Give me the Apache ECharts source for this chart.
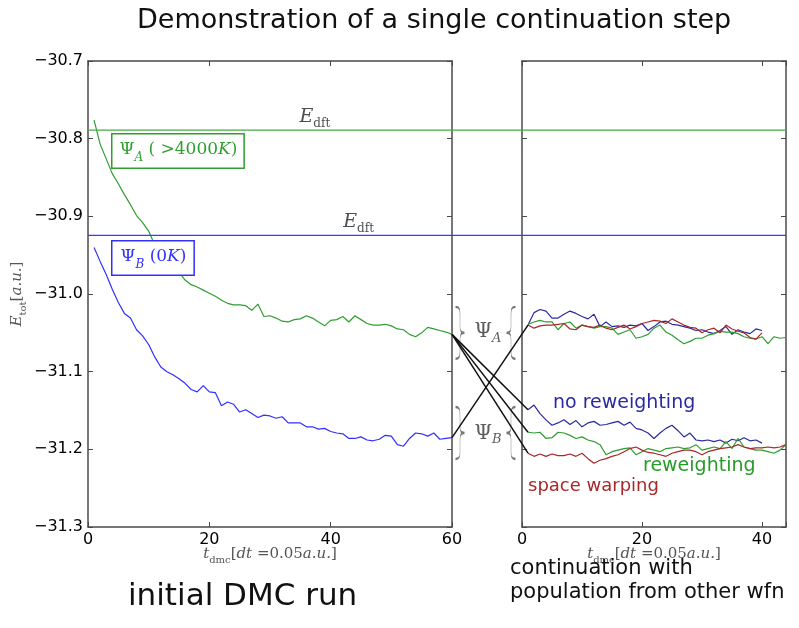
<!DOCTYPE html>
<html><head><meta charset="utf-8">
<script src="https://cdn.jsdelivr.net/npm/echarts@6/dist/echarts.min.js"></script>
<style>html,body{margin:0;padding:0;background:#fff}#c{width:799px;height:628px}</style>
</head><body><div id="c"></div><script>
// ---------------- data ----------------
const xTicksLeft = [0, 20, 40, 60];
const xTicksRight = [0, 20, 40];
const yTicks = [-31.3, -31.2, -31.1, -31.0, -30.9, -30.8, -30.7];

const E_DFT_A = -30.789;   // Edft of Psi_A
const E_DFT_B = -30.9245;  // Edft of Psi_B

// initial DMC run (t = 1..60)
const leftPsiA = [
 -30.776,-30.807,-30.826,-30.845,-30.858,-30.872,-30.885,-30.899,-30.908,-30.919,
 -30.937,-30.945,-30.955,-30.963,-30.972,-30.982,-30.988,-30.991,-30.995,-30.999,
 -31.003,-31.008,-31.012,-31.014,-31.014,-31.015,-31.021,-31.013,-31.029,-31.028,
 -31.031,-31.035,-31.036,-31.033,-31.032,-31.028,-31.031,-31.036,-31.041,-31.034,
 -31.033,-31.029,-31.036,-31.028,-31.033,-31.038,-31.040,-31.040,-31.039,-31.041,
 -31.045,-31.046,-31.052,-31.055,-31.050,-31.043,-31.045,-31.047,-31.049,-31.052];
const leftPsiB = [
 -30.940,-30.958,-30.975,-30.994,-31.011,-31.025,-31.031,-31.046,-31.054,-31.065,
 -31.081,-31.094,-31.100,-31.104,-31.109,-31.115,-31.123,-31.126,-31.118,-31.126,
 -31.127,-31.144,-31.139,-31.142,-31.152,-31.149,-31.154,-31.159,-31.156,-31.157,
 -31.160,-31.158,-31.166,-31.166,-31.166,-31.171,-31.171,-31.174,-31.173,-31.177,
 -31.179,-31.180,-31.186,-31.186,-31.184,-31.188,-31.189,-31.187,-31.182,-31.183,
 -31.194,-31.196,-31.186,-31.179,-31.180,-31.183,-31.179,-31.187,-31.186,-31.185];

// continuation, population moved into Psi_A (upper group)
const contA_noRew = [
 -31.040,-31.024,-31.020,-31.022,-31.031,-31.031,-31.026,-31.022,-31.025,-31.029,
 -31.032,-31.026,-31.042,-31.036,-31.042,-31.041,-31.043,-31.040,-31.041,-31.038,
 -31.047,-31.042,-31.036,-31.035,-31.039,-31.040,-31.042,-31.044,-31.047,-31.046,
 -31.049,-31.051,-31.047,-31.042,-31.052,-31.046,-31.049,-31.051,-31.045,-31.047];
const contA_rew = [
 -31.039,-31.036,-31.034,-31.036,-31.036,-31.046,-31.038,-31.036,-31.044,-31.040,
 -31.042,-31.044,-31.042,-31.042,-31.044,-31.052,-31.049,-31.046,-31.057,-31.055,
 -31.052,-31.044,-31.040,-31.049,-31.053,-31.059,-31.064,-31.061,-31.057,-31.057,
 -31.053,-31.051,-31.048,-31.049,-31.049,-31.051,-31.055,-31.057,-31.058,-31.055,
 -31.064,-31.055,-31.057,-31.056];
const contA_warp = [
 -31.040,-31.044,-31.041,-31.040,-31.040,-31.039,-31.038,-31.045,-31.046,-31.040,
 -31.042,-31.043,-31.040,-31.044,-31.046,-31.043,-31.040,-31.045,-31.042,-31.038,
 -31.036,-31.034,-31.035,-31.038,-31.032,-31.036,-31.040,-31.043,-31.044,-31.050,
 -31.046,-31.044,-31.050,-31.040,-31.045,-31.048,-31.050,-31.056,-31.058,-31.050];

// continuation, population moved into Psi_B (lower group)
const contB_noRew = [
 -31.149,-31.143,-31.154,-31.162,-31.169,-31.166,-31.162,-31.168,-31.163,-31.171,
 -31.166,-31.164,-31.169,-31.168,-31.166,-31.164,-31.169,-31.165,-31.173,-31.175,
 -31.179,-31.186,-31.179,-31.173,-31.169,-31.176,-31.184,-31.179,-31.188,-31.189,
 -31.188,-31.190,-31.188,-31.192,-31.187,-31.189,-31.185,-31.189,-31.188,-31.192];
const contB_rew = [
 -31.178,-31.179,-31.178,-31.186,-31.185,-31.178,-31.179,-31.182,-31.186,-31.184,
 -31.188,-31.190,-31.194,-31.207,-31.203,-31.201,-31.199,-31.198,-31.207,-31.203,
 -31.199,-31.201,-31.203,-31.199,-31.198,-31.197,-31.199,-31.198,-31.194,-31.201,
 -31.199,-31.197,-31.199,-31.190,-31.199,-31.186,-31.197,-31.199,-31.201,-31.201,
 -31.203,-31.205,-31.201,-31.194];
const contB_warp = [
 -31.205,-31.209,-31.206,-31.209,-31.206,-31.208,-31.208,-31.206,-31.209,-31.205,
 -31.212,-31.218,-31.214,-31.212,-31.209,-31.207,-31.203,-31.199,-31.197,-31.201,
 -31.204,-31.205,-31.207,-31.209,-31.205,-31.203,-31.201,-31.201,-31.203,-31.207,
 -31.203,-31.201,-31.199,-31.198,-31.197,-31.194,-31.197,-31.199,-31.198,-31.198,
 -31.197,-31.198,-31.197,-31.194];

// ---------------- layout ----------------
const L0 = 88, W0 = 364, L1 = 522, W1 = 264, TOP = 61, H = 466;
const LMAX = 60, RMAX = 44;
const PXU = W1 / RMAX;                 // px per unit in right panel / overlay
const OV_MIN = -(L1 - L0) / PXU;       // overlay axis starts at the left panel edge
const leftToOv = t => (L0 + t * W0 / LMAX - L1) / PXU;
const pxToOv = px => (px - L1) / PXU;

const GREEN = '#2e9e2e', BLUE = '#3030ff', NAVY = '#2b2ba0', RED = '#a82828', FRAME = '#4a4a4a';
const SERIF = "'DejaVu Serif', serif";
const SANS = "'DejaVu Sans', sans-serif";

const pts = arr => arr.map((v, i) => [i + 1, v]);
const fmtY = v => v.toFixed(1).replace('-', '\u2212');

const nameRich = {
  i: { fontFamily: SERIF, fontStyle: 'italic', fontSize: 15, color: '#555', lineHeight: 18, verticalAlign: 'top' },
  r: { fontFamily: SERIF, fontSize: 15, color: '#555', lineHeight: 18, verticalAlign: 'top' },
  s: { fontFamily: SERIF, fontSize: 10, color: '#555', lineHeight: 10, padding: [8, 0, 0, 0] }
};

function xAx(grid, max, ticks, pos, labels, name) {
  return {
    type: 'value', gridIndex: grid, min: 0, max: max, interval: 20, position: pos,
    axisLine: { show: true, onZero: false, lineStyle: { color: FRAME, width: 1.5 } },
    axisTick: { show: true, inside: true, length: 5, lineStyle: { color: FRAME, width: 1 } },
    axisLabel: { show: labels, color: '#000', fontSize: 16, fontFamily: SANS, margin: 5,
      formatter: v => ticks.indexOf(v) >= 0 ? String(v) : '' },
    splitLine: { show: false },
    name: name ? '{i|t}{s|dmc}{r|[}{i|dt}{r| =0.05}{i|a.u.}{r|]}' : '',
    nameLocation: 'middle', nameGap: 20, nameMoveOverlap: false,
    nameTextStyle: { color: '#555', rich: nameRich }
  };
}
function yAx(grid, pos, labels, name) {
  return {
    type: 'value', gridIndex: grid, min: -31.3, max: -30.7, interval: 0.1, position: pos,
    axisLine: { show: true, onZero: false, lineStyle: { color: FRAME, width: 1.5 } },
    axisTick: { show: true, inside: true, length: 5, lineStyle: { color: FRAME, width: 1 } },
    axisLabel: { show: labels, color: '#000', fontSize: 16, fontFamily: SANS, margin: 5, formatter: fmtY },
    splitLine: { show: false },
    name: name ? '{i|E}{s|tot}{r|[}{i|a.u.}{r|]}' : '',
    nameLocation: 'middle', nameGap: 60, nameRotate: 90, nameMoveOverlap: false,
    nameTextStyle: { color: '#555', rich: nameRich }
  };
}

function line(name, data, xi, yi, color, w) {
  return { name, type: 'line', xAxisIndex: xi, yAxisIndex: yi, data, symbol: 'none', silent: true,
    lineStyle: { color, width: w || 1.2 }, itemStyle: { color }, animation: false, z: 3 };
}

const BRACE_R = 'path://M0,0 C5,0 5,3 5,9 L5,20 C5,24 6,26 10,26 C6,26 5,28 5,32 L5,43 C5,49 5,52 0,52';
const BRACE_L = 'path://M10,0 C5,0 5,3 5,9 L5,20 C5,24 4,26 0,26 C4,26 5,28 5,32 L5,43 C5,49 5,52 10,52';

const psiRich = {
  r: { fontFamily: SERIF, fontSize: 20, color: '#333', lineHeight: 22, verticalAlign: 'top' },
  s: { fontFamily: SERIF, fontStyle: 'italic', fontSize: 13, color: '#333', lineHeight: 13, padding: [11, 0, 0, 0] }
};
const edftRich = {
  i: { fontFamily: SERIF, fontStyle: 'italic', fontSize: 19, color: '#222', lineHeight: 22, verticalAlign: 'top' },
  s: { fontFamily: SERIF, fontSize: 12, color: '#222', lineHeight: 12, padding: [12, 0, 0, 0] }
};

// overlay coordinates for annotations
const braceLX = pxToOv(460), braceRX = pxToOv(511), psiX = pxToOv(488);
const braceAY = -31.050, braceBY = -31.179;

const series = [
  line('ΨA initial', pts(leftPsiA), 0, 0, GREEN),
  line('ΨB initial', pts(leftPsiB), 0, 0, BLUE),
  line('A no reweighting', pts(contA_noRew), 2, 2, NAVY),
  line('A reweighting', pts(contA_rew), 2, 2, GREEN),
  line('A space warping', pts(contA_warp), 2, 2, RED),
  line('B no reweighting', pts(contB_noRew), 2, 2, NAVY),
  line('B reweighting', pts(contB_rew), 2, 2, GREEN),
  line('B space warping', pts(contB_warp), 2, 2, RED),
  // Edft reference lines across the whole figure
  line('Edft A', [[OV_MIN, E_DFT_A], [RMAX, E_DFT_A]], 4, 4, '#44aa44', 1.3),
  line('Edft B', [[OV_MIN, E_DFT_B], [RMAX, E_DFT_B]], 4, 4, '#3a3aff', 1.3),
  // connectors between the panels
  line('c1', [[leftToOv(LMAX), leftPsiA[LMAX - 1]], [1, contB_noRew[0]]], 4, 4, '#111', 1.5),
  line('c2', [[leftToOv(LMAX), leftPsiA[LMAX - 1]], [1, contB_rew[0]]], 4, 4, '#111', 1.5),
  line('c3', [[leftToOv(LMAX), leftPsiA[LMAX - 1]], [1, contB_warp[0]]], 4, 4, '#111', 1.5),
  line('c4', [[leftToOv(LMAX), leftPsiB[LMAX - 1]], [1, contA_noRew[0]]], 4, 4, '#111', 1.5),
  { type: 'scatter', xAxisIndex: 4, yAxisIndex: 4, symbol: BRACE_R, symbolSize: [9, 52], silent: true, animation: false,
    itemStyle: { color: 'none', borderColor: '#555', borderWidth: 1 },
    data: [[braceLX, braceAY], [braceLX, braceBY]] },
  { type: 'scatter', xAxisIndex: 4, yAxisIndex: 4, symbol: BRACE_L, symbolSize: [9, 52], silent: true, animation: false,
    itemStyle: { color: 'none', borderColor: '#555', borderWidth: 1 },
    data: [[braceRX, braceAY], [braceRX, braceBY]] },
  { type: 'scatter', xAxisIndex: 4, yAxisIndex: 4, symbolSize: 0, silent: true, animation: false,
    label: { show: true, position: 'inside', rich: psiRich,
      formatter: p => p.dataIndex === 0 ? '{r|Ψ}{s|A}' : '{r|Ψ}{s|B}' },
    data: [[psiX, braceAY], [psiX, braceBY - 0.002]] },
  { type: 'scatter', xAxisIndex: 0, yAxisIndex: 0, symbolSize: 0, silent: true, animation: false,
    label: { show: true, position: 'top', distance: 1, rich: edftRich, formatter: '{i|E}{s|dft}' },
    data: [[37.4, E_DFT_A], [44.6, E_DFT_B]] }
];

const boxRich = c => ({
  r: { fontFamily: SERIF, fontSize: 17, fill: c, lineHeight: 21, verticalAlign: 'top' },
  i: { fontFamily: SERIF, fontStyle: 'italic', fontSize: 17, fill: c, lineHeight: 21, verticalAlign: 'top' },
  s: { fontFamily: SERIF, fontStyle: 'italic', fontSize: 12, fill: c, lineHeight: 12, padding: [11, 0, 0, 0] }
});

const graphic = [
  { type: 'text', left: 137, top: 7, z: 100, style: { text: 'Demonstration of a single continuation step', font: "27px 'DejaVu Sans'", fill: '#111' } },
  { type: 'text', left: 111, top: 133, z: 100, style: {
      text: '{r|Ψ}{s|A}{r| ( >4000}{i|K}{r|)}', rich: boxRich(GREEN), fill: GREEN,
      backgroundColor: '#fff', borderColor: GREEN, borderWidth: 1.5, padding: [7, 6, 5, 7] } },
  { type: 'text', left: 111, top: 240, z: 100, style: {
      text: '{r|Ψ}{s|B}{r| (0}{i|K}{r|)}', rich: boxRich(BLUE), fill: BLUE,
      backgroundColor: '#fff', borderColor: BLUE, borderWidth: 1.5, padding: [7, 7, 5, 8] } },
  { type: 'text', left: 553, top: 394, z: 100, style: { text: 'no reweighting', font: "19px 'DejaVu Sans'", fill: NAVY } },
  { type: 'text', left: 643, top: 457, z: 100, style: { text: 'reweighting', font: "19px 'DejaVu Sans'", fill: '#2a9a2a' } },
  { type: 'text', left: 528, top: 477, z: 100, style: { text: 'space warping', font: "18px 'DejaVu Sans'", fill: RED } },
  { type: 'text', left: 128, top: 581, z: 100, style: { text: 'initial DMC run', font: "31px 'DejaVu Sans'", fill: '#111' } },
  { type: 'text', left: 510, top: 557, z: 100, style: { text: 'continuation with\npopulation from other wfn', font: "21px 'DejaVu Sans'", fill: '#111', lineHeight: 24 } }
];

const option = {
  backgroundColor: '#fff',
  animation: false,
  grid: [
    { left: L0, top: TOP, width: W0, height: H, containLabel: false },
    { left: L1, top: TOP, width: W1, height: H, containLabel: false },
    { left: L0, top: TOP, width: L1 + W1 - L0, height: H, containLabel: false }
  ],
  xAxis: [
    xAx(0, LMAX, xTicksLeft, 'bottom', true, true),
    xAx(0, LMAX, xTicksLeft, 'top', false, false),
    xAx(1, RMAX, xTicksRight, 'bottom', true, true),
    xAx(1, RMAX, xTicksRight, 'top', false, false),
    { type: 'value', gridIndex: 2, min: OV_MIN, max: RMAX, show: false }
  ],
  yAxis: [
    yAx(0, 'left', true, true),
    yAx(0, 'right', false, false),
    yAx(1, 'left', false, false),
    yAx(1, 'right', false, false),
    { type: 'value', gridIndex: 2, min: -31.3, max: -30.7, show: false }
  ],
  series,
  graphic
};

const chart = echarts.init(document.getElementById('c'), null, { renderer: 'canvas' });
chart.setOption(option);
</script></body></html>
